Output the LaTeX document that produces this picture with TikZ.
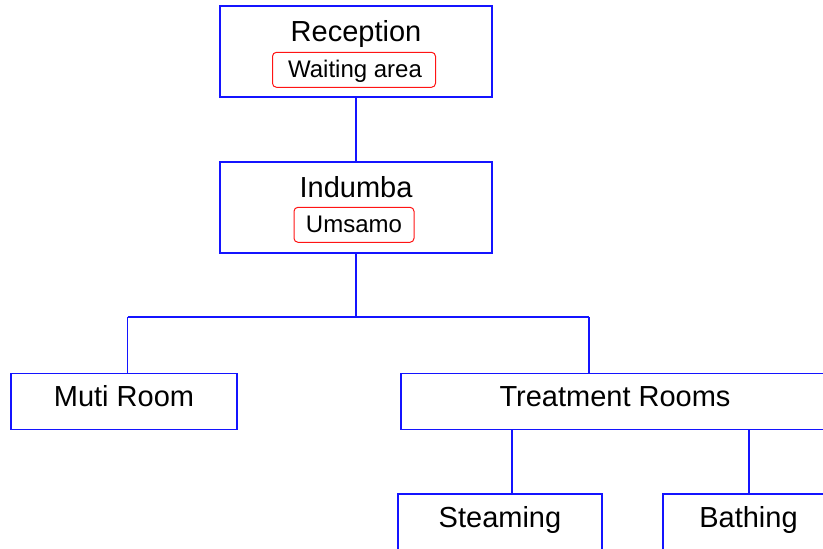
\documentclass[tikz,border=0pt]{standalone}
\usepackage{fontspec}
\setmainfont{Liberation Sans}
\definecolor{roomblue}{RGB}{20,20,255}
\definecolor{areared}{RGB}{255,20,20}
\begin{document}
\begin{tikzpicture}[x=1pt,y=-1pt,
  room/.style={draw=roomblue, line width=1.2pt, rectangle, inner sep=0pt},
  area/.style={draw=areared, line width=1pt, rounded corners=4pt, rectangle, inner sep=0pt},
  title/.style={inner sep=0pt, anchor=base, font=\fontsize{29}{34}\selectfont},
  subtitle/.style={inner sep=0pt, anchor=base, font=\fontsize{24}{28}\selectfont},
  link/.style={draw=roomblue, line width=1.2pt}]
\useasboundingbox (0,0) rectangle (823,549);
\clip (0,0) rectangle (823,549);

% top two rooms, each with an inner area
\node[room, minimum width=272pt, minimum height=91pt] (rec) at (356,51.5) {};
\node[title] (rectitle) at (356,41) {Reception};
\node[area, minimum width=163pt, minimum height=35pt] (wait) at (354,69.8) {};
\node[subtitle] (waittext) at (355,77) {Waiting area};

\node[room, minimum width=272pt, minimum height=91pt] (ind) at (356,207.5) {};
\node[title] (indtitle) at (356,197) {Indumba};
\node[area, minimum width=120pt, minimum height=35pt] (ums) at (354,224.8) {};
\node[subtitle] (umstext) at (354,232) {Umsamo};

% second level
\node[room, minimum width=226pt, minimum height=56pt] (muti) at (124,401.5) {};
\node[title] (mutitext) at (124,406.5) {Muti Room};
\node[room, minimum width=428pt, minimum height=56pt] (treat) at (615,401.5) {};
\node[title] (treattext) at (615,406.5) {Treatment Rooms};

% third level
\node[room, minimum width=204pt, minimum height=56pt] (steam) at (500,522) {};
\node[title] (steamtext) at (500,527) {Steaming};
\node[room, minimum width=170pt, minimum height=56pt] (bath) at (748,522) {};
\node[title] (bathtext) at (748.5,527) {Bathing};

% connectors
\draw[link] (rec.south) -- (ind.north);
\coordinate (split) at (356,317);
\coordinate (jm) at (127.5,317);
\coordinate (jt) at (589,317);
\draw[link] (ind.south) -- (split);
\draw[link] (jm) -- (jt);
\draw[link] (jm) -- (jm |- muti.north);
\draw[link] (jt) -- (jt |- treat.north);
\coordinate (ts) at (512,0);
\coordinate (tb) at (749,0);
\draw[link] (treat.south -| ts) -- (steam.north -| ts);
\draw[link] (treat.south -| tb) -- (bath.north -| tb);
\end{tikzpicture}
\end{document}
